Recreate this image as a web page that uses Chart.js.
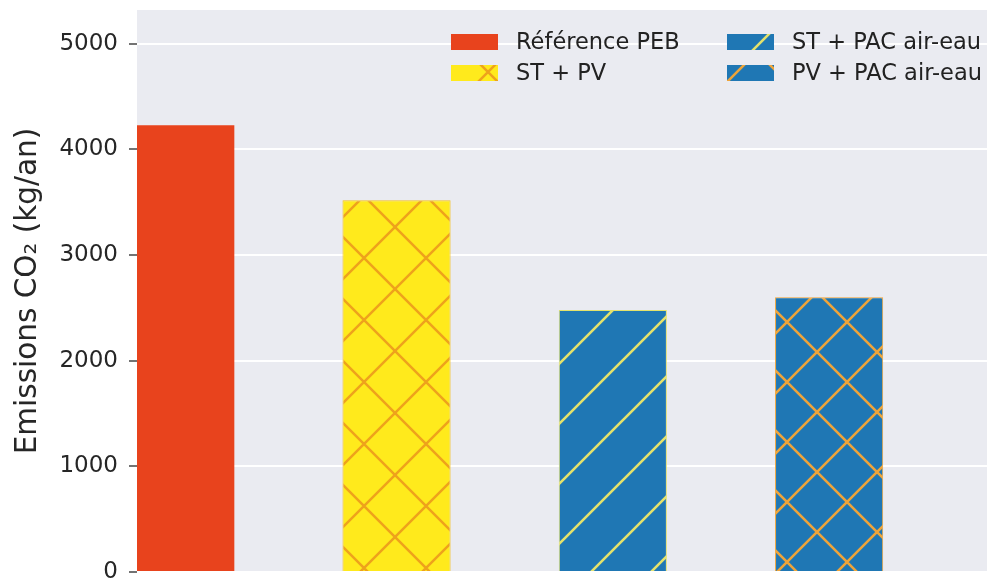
<!DOCTYPE html>
<html lang="fr">
<head>
    <meta charset="UTF-8">
    <title>Emissions CO2</title>
    <script src="https://cdn.jsdelivr.net/npm/chart.js"></script>
    <style>
        html, body {
            margin: 0;
            padding: 0;
            background: #fff;
            overflow: hidden;
        }
        #wrap {
            width: 987px;
            height: 579px;
            overflow: hidden;
        }
    </style>
</head>
<body>
    <div id="wrap">
        <canvas id="co2Chart" width="987" height="640"></canvas>
    </div>

    <script>
        // Données
        var scenarios = ['Référence PEB', 'ST + PV', 'ST + PAC air-eau', 'PV + PAC air-eau'];
        var emissions = [4230, 3520, 2480, 2600];
        var yTicks = [0, 1000, 2000, 3000, 4000, 5000];

        // Motifs de hachures (comme matplotlib)
        function hatch(bg, fg, size, lw, cross, dx, dy) {
            var c = document.createElement('canvas');
            c.width = size;
            c.height = size;
            var g = c.getContext('2d');
            g.fillStyle = bg;
            g.fillRect(0, 0, size, size);
            g.strokeStyle = fg;
            g.lineWidth = lw;
            g.beginPath();
            // lignes "/"
            g.moveTo(-size, size); g.lineTo(size, -size);
            g.moveTo(0, size); g.lineTo(size, 0);
            g.moveTo(0, 2 * size); g.lineTo(2 * size, 0);
            if (cross) {
                // lignes "\"
                g.moveTo(0, 0); g.lineTo(size, size);
                g.moveTo(0, -size); g.lineTo(2 * size, size);
                g.moveTo(-size, 0); g.lineTo(size, 2 * size);
            }
            g.stroke();
            var p = g.createPattern(c, 'repeat');
            p.setTransform(new DOMMatrix().translate(dx, dy));
            return p;
        }

        var fills = [
            '#e8431d',
            hatch('#ffea1c', '#eea21c', 62, 2.5, true, 23, -21),
            hatch('#1f77b4', '#e4e26c', 60, 2.6, false, 23, 0),
            hatch('#1f77b4', '#eea43a', 60, 2.6, true, 37, -8)
        ];
        var edges = ['#e8431d', '#f4c020', '#e4e26c', '#eea43a'];

        var datasets = scenarios.map(function (name, i) {
            return {
                label: name,
                data: [{ x: i, y: emissions[i] }],
                backgroundColor: fills[i],
                borderColor: edges[i],
                borderWidth: i === 0 ? 0 : 1
            };
        });

        // fond gris de la zone du graphique
        var plotBackground = {
            id: 'plotBackground',
            beforeDraw: function (chart) {
                var a = chart.chartArea, ctx = chart.ctx;
                ctx.save();
                ctx.fillStyle = '#eaebf1';
                ctx.fillRect(a.left, a.top, a.right - a.left, a.bottom - a.top);
                ctx.restore();
            }
        };

        // légende sur deux colonnes (ordre matplotlib ncol=2)
        var twoColLegend = {
            id: 'twoColLegend',
            afterDraw: function (chart) {
                var ctx = chart.ctx;
                var cols = [451, 727];
                var rows = [42, 73];
                ctx.save();
                ctx.font = '22.5px "DejaVu Sans"';
                ctx.textBaseline = 'middle';
                chart.data.datasets.forEach(function (ds, i) {
                    var x = cols[Math.floor(i / 2)];
                    var y = rows[i % 2];
                    ctx.fillStyle = ds.backgroundColor;
                    ctx.fillRect(x, y - 8, 47, 16);
                    ctx.fillStyle = '#222';
                    ctx.fillText(ds.label, x + 65, y + 1);
                });
                ctx.restore();
            }
        };

        var ctx = document.getElementById('co2Chart').getContext('2d');
        var co2Chart = new Chart(ctx, {
            type: 'bar',
            data: { datasets: datasets },
            plugins: [plotBackground, twoColLegend],
            options: {
                responsive: false,
                animation: false,
                layout: {
                    padding: { top: 10, bottom: 68, left: 0, right: 0 }
                },
                datasets: {
                    bar: {
                        grouped: false,
                        categoryPercentage: 1,
                        barPercentage: 0.5
                    }
                },
                plugins: {
                    legend: { display: false },
                    tooltip: { enabled: false }
                },
                scales: {
                    x: {
                        type: 'linear',
                        offset: false,
                        min: -0.2,
                        max: 3.73,
                        display: false,
                        grid: { offset: false },
                        ticks: { stepSize: 1, includeBounds: false }
                    },
                    y: {
                        min: 0,
                        max: 5320,
                        afterFit: function (scale) {
                            scale.width = 137;
                            scale.paddingTop = 0;
                            scale.paddingBottom = 0;
                        },
                        afterBuildTicks: function (scale) {
                            scale.ticks = yTicks.map(function (v) { return { value: v }; });
                        },
                        border: { display: false },
                        grid: {
                            color: '#ffffff',
                            lineWidth: 2,
                            tickColor: '#444',
                            tickWidth: 1.5,
                            tickLength: 8
                        },
                        ticks: {
                            padding: 11,
                            color: '#262626',
                            font: { family: 'DejaVu Sans', size: 23 },
                            callback: function (v) { return String(v); }
                        },
                        title: {
                            display: true,
                            text: 'Emissions CO₂ (kg/an)',
                            color: '#262626',
                            padding: { top: 11 },
                            font: { family: 'DejaVu Sans', size: 29.5 }
                        }
                    }
                }
            }
        });
    </script>
</body>
</html>
